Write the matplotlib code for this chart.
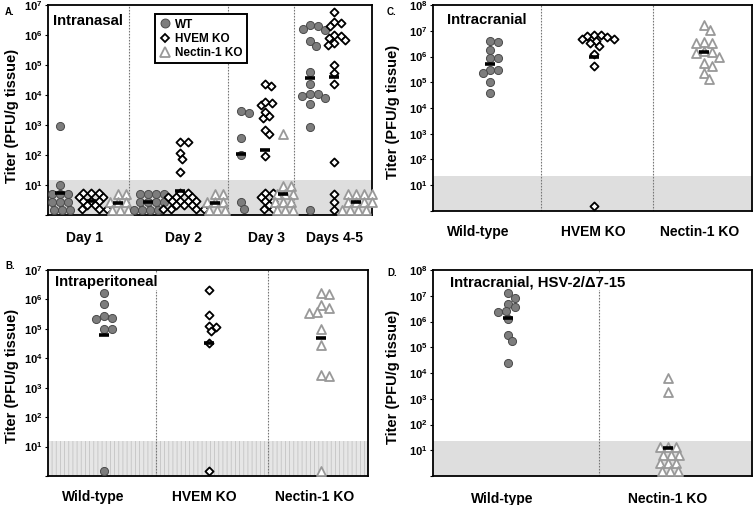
import numpy as np
import matplotlib.pyplot as plt
from matplotlib.lines import Line2D
from matplotlib.ticker import NullLocator

plt.rcParams['font.family'] = ['Liberation Sans', 'DejaVu Sans']
plt.rcParams['font.weight'] = 'bold'
plt.rcParams['mathtext.fontset'] = 'custom'
plt.rcParams['mathtext.bf'] = 'Liberation Sans:bold'
plt.rcParams['mathtext.rm'] = 'Liberation Sans:bold'
plt.rcParams['hatch.linewidth'] = 0.6

# ---- data (titers, PFU/g tissue) ----
# A. intranasal, by day
a_days = ['Day 1', 'Day 2', 'Day 3', 'Days 4-5']
a_wt = [
    [930, 10, 5, 5, 5, 2.7, 2.7, 2.7, 1.5, 1.5, 1.5],
    [5, 5, 5, 5, 2.7, 2.7, 2.7, 2.7, 1.5, 1.5, 1.5, 1.5],
    [2600, 3000, 380, 100, 2.8, 1.6],
    [2.0e6, 2.1e6, 1.6e6, 1.5e6, 6.3e5, 4.4e5, 6.0e4, 2.3e4, 1.05e4, 1.1e4,
     9.5e3, 7.8e3, 5.1e3, 870, 1.5],
]
a_hvem = [
    [5.4, 5.4, 5.4, 4, 4, 2.9, 2.9, 2.9, 2.1, 2.1, 1.6, 1.6, 1.6],
    [280, 270, 115, 72, 28, 5.4, 5.4, 4, 4, 4, 2.9, 2.9, 2.9, 2.9,
     2.1, 2.1, 2.1, 1.6, 1.6, 1.6, 1.6],
    [2.0e4, 2.3e4, 4.5e3, 5.5e3, 6.0e3, 1.7e3, 2.0e3, 2.8e3, 500, 700, 95,
     5.4, 5.4, 4, 2.9, 2.9, 2.1, 1.6, 1.6],
    [6e6, 2.8e6, 2.5e6, 2e6, 1e6, 9e5, 8e5, 7e5, 5.6e5, 4.5e5, 1e5, 5.5e4,
     2.3e4, 57, 5.2, 2.8, 1.5],
]
a_nectin = [
    [5, 5, 2.7, 2.7, 2.7, 1.5, 1.5, 1.5],
    [5, 5, 2.7, 2.7, 2.7, 1.5, 1.5, 1.5],
    [490, 9, 9, 5, 5, 5, 2.7, 2.7, 2.7, 1.5, 1.5, 1.5],
    [5, 5, 5, 5, 2.7, 2.7, 2.7, 2.7, 1.5, 1.5, 1.5, 1.5],
]

# B. intraperitoneal
b_groups = ['Wild-type', 'HVEM KO', 'Nectin-1 KO']
b_wt = [1.7e6, 6.8e5, 2.3e5, 2.7e5, 2.2e5, 1e5, 1e5, 1.5]
b_hvem = [2.1e6, 3e5, 1.2e5, 1.3e5, 8.3e4, 3.2e4, 1.5]
b_nectin = [1.5e6, 1.7e6, 5.2e5, 6.3e5, 3.5e5, 3.6e5, 1e5, 2.8e4, 2.5e3, 2.8e3, 1.5]

# C. intracranial
c_groups = ['Wild-type', 'HVEM KO', 'Nectin-1 KO']
c_wt = [3.5e6, 4.1e6, 1.8e6, 8.5e5, 8.5e5, 3e5, 3e5, 2.3e5, 1.05e5, 3.7e4]
c_hvem = [7.1e6, 6.6e6, 6.3e6, 5.6e6, 5e6, 4.8e6, 4e6, 3.2e6, 2.6e6, 1.2e6, 4.1e5, 1.5]
c_nectin = [1.7e7, 1.1e7, 3.5e6, 3.3e6, 3.2e6, 1.6e6, 1.45e6, 1.4e6, 1e6,
            5.6e5, 4.4e5, 2.3e5, 1.3e5]

# D. intracranial, HSV-2/d7-15
d_groups = ['Wild-type', 'Nectin-1 KO']
d_wt = [1.25e7, 8.5e6, 5e6, 3.5e6, 2.4e6, 2.5e6, 1.2e6, 3.1e5, 1.7e5, 2.4e4]
d_nectin = [6300, 1900, 13, 13, 13, 6.6, 6.6, 6.6, 3.2, 3.2, 3.2, 1.6, 1.6, 1.6]

STYLE = {
    'WT': dict(marker='o', s=34, facecolor='#7d7d7d', edgecolor='#4a4a4a', linewidth=0.7),
    'HVEM KO': dict(marker='D', s=17, facecolor='white', edgecolor='black', linewidth=1.3),
    'Nectin-1 KO': dict(marker='^', s=42, facecolor='white', edgecolor='#999999', linewidth=1.3),
}
PACK = {'WT': (8.0, 'euclid'), 'HVEM KO': (8.0, 'l1'), 'Nectin-1 KO': (8.0, 'euclid')}


def swarm_x(ax, xc, vals, d, metric):
    pts = ax.transData.transform(np.column_stack([np.full(len(vals), xc), vals]))
    x0, ys = pts[0, 0], pts[:, 1]
    offs = np.zeros(len(vals))
    placed = []

    def dist(a, b, c, e):
        if metric == 'euclid':
            return np.hypot(a - c, b - e)
        return abs(a - c) + abs(b - e)

    for i in np.argsort(-ys, kind='stable'):
        y = ys[i]
        cands = [0.0]
        for px, py in placed:
            dy = abs(py - y)
            if dy < d:
                dx = np.sqrt(d * d - dy * dy) if metric == 'euclid' else d - dy
                cands += [px + dx, px - dx]
        cands.sort(key=abs)
        for c in cands:
            if all(dist(c, y, px, py) >= d - 1e-6 for px, py in placed):
                break
        placed.append((c, y))
        offs[i] = c
    back = ax.transData.inverted().transform(np.column_stack([x0 + offs, ys]))
    return back[:, 0]


def dots(ax, xc, vals, kind):
    d, metric = PACK[kind]
    xs = swarm_x(ax, xc, vals, d, metric)
    ax.scatter(xs, vals, zorder=4, clip_on=False, **STYLE[kind])
    gm = 10 ** np.mean(np.log10(vals))
    ax.plot([xc], [gm], marker='_', ms=6.5, mew=2.6, color='black', zorder=6)


def setup(ax, width, top_exp, lod, label_x, labels, dividers, pad, hatch=None):
    ax.set_xlim(0, width)
    ax.set_yscale('log')
    ax.set_ylim(1, 10 ** top_exp)
    ax.yaxis.set_minor_locator(NullLocator())
    ticks = [10 ** k for k in range(0, top_exp + 1)]
    ax.set_yticks(ticks, [''] + [r'$\mathbf{10^{%d}}$' % k for k in range(1, top_exp + 1)])
    ax.tick_params(axis='y', labelsize=8, length=2.5, width=0.8, pad=1.5)
    ax.set_xticks(label_x, labels, fontsize=10, fontweight='bold')
    ax.tick_params(axis='x', length=0, pad=pad)
    if hatch:
        ax.axhspan(1, lod, facecolor='#e6e6e6', edgecolor='#c4c4c4', hatch=hatch,
                   linewidth=0, zorder=0)
    else:
        ax.axhspan(1, lod, facecolor='#dedede', linewidth=0, zorder=0)
    for xv in dividers:
        ax.axvline(xv, color='#777777', lw=0.8, ls=(0, (1.5, 1.2)), zorder=1)
    for sp in ax.spines.values():
        sp.set_linewidth(1.3)


def title(ax, x, y, s):
    ax.text(x, y, s, transform=ax.transAxes, fontsize=10.7, va='center', ha='left',
            zorder=3, bbox=dict(facecolor='white', edgecolor='none', pad=0.8))


fig = plt.figure(figsize=(7.55, 5.05), dpi=100)

# ---- A ----
axA = fig.add_axes([48 / 755, 1 - 215 / 505, 324 / 755, 210 / 505])
setup(axA, 324, 7, 15, [37, 135, 218, 287], a_days, [81, 180, 246], 11.5)
a_cols = [[12, 43, 70], [100, 132, 167], [193, 217, 235], [262, 286, 308]]
for k in range(len(a_days)):
    dots(axA, a_cols[k][0], a_wt[k], 'WT')
    dots(axA, a_cols[k][1], a_hvem[k], 'HVEM KO')
    dots(axA, a_cols[k][2], a_nectin[k], 'Nectin-1 KO')
title(axA, 0.016, 0.925, 'Intranasal')
handles = [Line2D([], [], ls='none', marker=STYLE[k]['marker'],
                  markersize=np.sqrt(STYLE[k]['s']) * 1.1,
                  markerfacecolor=STYLE[k]['facecolor'],
                  markeredgecolor=STYLE[k]['edgecolor'],
                  markeredgewidth=STYLE[k]['linewidth']) for k in STYLE]
leg = axA.legend(handles, list(STYLE), loc='upper left', bbox_to_anchor=(0.33, 0.955),
                 fancybox=False, framealpha=1, edgecolor='black', fontsize=8.5,
                 handlelength=1.0, handletextpad=0.35, labelspacing=0.2,
                 borderpad=0.35, borderaxespad=0)
leg.get_frame().set_linewidth(1.4)
leg.set_zorder(8)

# ---- B ----
axB = fig.add_axes([48 / 755, 1 - 476 / 505, 320 / 755, 206 / 505])
setup(axB, 320, 7, 15, [45, 156, 267], b_groups, [108, 220], 10, hatch='||||')
dots(axB, 56, b_wt, 'WT')
dots(axB, 161, b_hvem, 'HVEM KO')
dots(axB, 273, b_nectin, 'Nectin-1 KO')
title(axB, 0.022, 0.94, 'Intraperitoneal')

# ---- C ----
axC = fig.add_axes([433 / 755, 1 - 211 / 505, 319 / 755, 206 / 505])
setup(axC, 319, 8, 22, [45, 160, 267], c_groups, [108, 220], 10)
dots(axC, 57, c_wt, 'WT')
dots(axC, 161, c_hvem, 'HVEM KO')
dots(axC, 271, c_nectin, 'Nectin-1 KO')
title(axC, 0.044, 0.927, 'Intracranial')

# ---- D ----
axD = fig.add_axes([433 / 755, 1 - 476 / 505, 319 / 755, 206 / 505])
setup(axD, 319, 8, 22, [69, 235], d_groups, [166], 11.5)
dots(axD, 75, d_wt, 'WT')
dots(axD, 235, d_nectin, 'Nectin-1 KO')
title(axD, 0.053, 0.94, 'Intracranial, HSV-2/Δ7-15')

# y labels and panel letters
for x, y in [(12, 116), (12, 376), (393, 112), (393, 377)]:
    fig.text(x / 755, 1 - y / 505, 'Titer (PFU/g tissue)', rotation=90,
             ha='center', va='center', fontsize=10.5)
for lab, x, y in [('A.', 5, 12), ('B.', 5, 266), ('C.', 387, 12), ('D.', 387, 273)]:
    fig.text(x / 755, 1 - y / 505, lab, ha='left', va='center', fontsize=7)

fig.savefig('out.png', dpi=100)
